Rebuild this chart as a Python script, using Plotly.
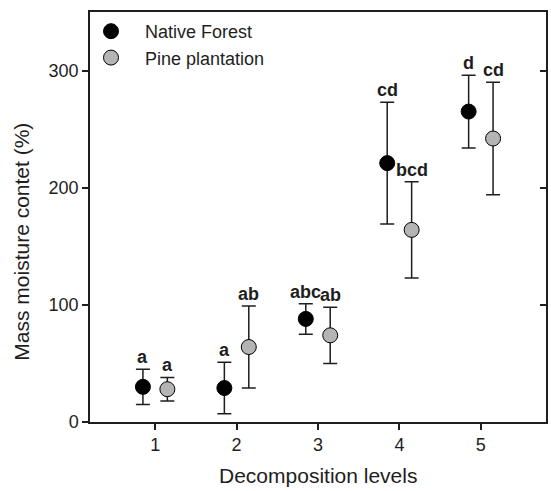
import plotly.graph_objects as go

levels = [1, 2, 3, 4, 5]
native_mean = [30, 29, 88, 221, 265]
native_err = [15, 22, 13, 52, 31]
native_letters = ["a", "a", "abc", "cd", "d"]
pine_mean = [28, 64, 74, 164, 242]
pine_err = [10, 35, 24, 41, 48]
pine_letters = ["a", "ab", "ab", "bcd", "cd"]

offset = 0.15
FONT = "Liberation Sans, Arial, sans-serif"
INK = "#1e1e1e"

nx = [l - offset for l in levels]
px = [l + offset for l in levels]

fig = go.Figure()
fig.add_trace(go.Scatter(
    x=nx, y=native_mean, mode="markers", name="Native Forest",
    marker=dict(size=15, color="black", line=dict(color="black", width=1)),
    error_y=dict(type="data", array=native_err, visible=True, color=INK, thickness=1.5, width=7),
    legendgroup="n",
))
fig.add_trace(go.Scatter(
    x=px, y=pine_mean, mode="markers", name="Pine plantation",
    marker=dict(size=15, color="#b4b4b4", line=dict(color="black", width=1)),
    error_y=dict(type="data", array=pine_err, visible=True, color=INK, thickness=1.5, width=7),
    legendgroup="p",
))
fig.add_trace(go.Scatter(x=[], y=[], yaxis="y2", showlegend=False, hoverinfo="skip"))

annotations = []
for xs, ms, es, ls in [(nx, native_mean, native_err, native_letters), (px, pine_mean, pine_err, pine_letters)]:
    for x, m, e, t in zip(xs, ms, es, ls):
        annotations.append(dict(
            x=x, y=m + e, xref="x", yref="y", text="<b>%s</b>" % t, showarrow=False,
            yanchor="bottom", xanchor="center", yshift=0,
            font=dict(family=FONT, size=18, color=INK),
        ))

annotations.append(dict(
    x=-0.152, y=0.439, xref="paper", yref="paper", text="Mass moisture contet (%)",
    textangle=-90, showarrow=False, xanchor="center", yanchor="middle",
    font=dict(family=FONT, size=21, color=INK),
))
annotations.append(dict(
    x=0.5, y=-0.1317, xref="paper", yref="paper", text="Decomposition levels",
    showarrow=False, xanchor="center", yanchor="middle",
    font=dict(family=FONT, size=21, color=INK),
))

fig.update_layout(
    width=551, height=491,
    margin=dict(l=90, r=3, t=12, b=69),
    paper_bgcolor="white", plot_bgcolor="white",
    font=dict(family=FONT, size=18, color=INK),
    showlegend=True,
    legend=dict(
        x=-0.0285, y=0.9976, xanchor="left", yanchor="top",
        bgcolor="rgba(0,0,0,0)", itemwidth=58, tracegroupgap=0,
        font=dict(family=FONT, size=18, color=INK),
    ),
    xaxis=dict(
        range=[0.2, 5.8], tickvals=levels, ticks="outside", ticklen=6, tickwidth=1.5,
        tickcolor=INK, showline=True, linecolor=INK, linewidth=1.5, mirror=True,
        showgrid=False, zeroline=False, tickfont=dict(family=FONT, size=18, color=INK),
    ),
    yaxis=dict(
        range=[0, 350], tickvals=[0, 100, 200, 300], ticks="outside", ticklen=6, tickwidth=1.5,
        tickcolor=INK, showline=True, linecolor=INK, linewidth=1.5, mirror=True,
        showgrid=False, zeroline=False, tickfont=dict(family=FONT, size=18, color=INK),
    ),
    yaxis2=dict(
        range=[0, 350], tickvals=[0, 100, 200, 300], overlaying="y", side="right",
        ticks="inside", ticklen=6, tickwidth=1.5, tickcolor=INK, showticklabels=False,
        showline=False, showgrid=False, zeroline=False,
    ),
    annotations=annotations,
)

fig.write_html("out.html", config={"displayModeBar": False},
               post_script="document.body.style.margin='0';")
